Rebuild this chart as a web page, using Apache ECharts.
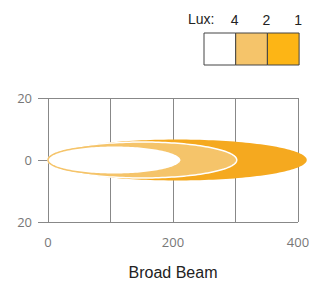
<!DOCTYPE html>
<html>
<head>
<meta charset="utf-8">
<script src="https://cdn.jsdelivr.net/npm/echarts@6/dist/echarts.min.js"></script>
<style>
  html, body { margin: 0; padding: 0; background: #fff; }
  #chart { width: 313px; height: 282px; }
</style>
</head>
<body>
<div id="chart"></div>
<script>
// lux levels, from brightest (innermost) to dimmest (outermost)
const luxLevels = ['4', '2', '1'];
const beamLength = [213, 302, 414];     // metres along the beam
const beamHalfWidth = [4.6, 5.8, 6.6];  // metres either side of centre
const fillColors = ['#ffffff', '#f5c46a', '#f5a91f'];
const legendColors = ['#ffffff', '#f5c46a', '#fdb515'];
const strokeColors = ['#f5c46a', '#ffffff', 'none'];

const chart = echarts.init(document.getElementById('chart'), null, { renderer: 'svg' });

// outermost first so the brighter zones sit on top
const beamData = luxLevels.map((lux, i) => [beamLength[i], beamHalfWidth[i], i]).reverse();

function renderBeam(params, api) {
    const len = api.value(0);
    const hw = api.value(1);
    const idx = api.value(2);
    const pts = [];
    for (let k = 0; k <= 180; k++) {
        const t = (k / 180) * Math.PI * 2;
        pts.push(api.coord([len / 2 - (len / 2) * Math.cos(t), hw * Math.sin(t)]));
    }
    return {
        type: 'polygon',
        shape: { points: pts },
        style: {
            fill: fillColors[idx],
            stroke: strokeColors[idx],
            lineWidth: strokeColors[idx] === 'none' ? 0 : 1.5
        }
    };
}

// legend boxes drawn from the lux levels
const boxLeft = 204, boxTop = 33, boxW = 31.7, boxH = 32;
const legendGraphics = [{
    type: 'text', left: 188, top: 12,
    style: { text: 'Lux:', font: '14px Arial, "Liberation Sans", sans-serif', fill: '#222' }
}];
luxLevels.forEach((lux, i) => {
    legendGraphics.push({
        type: 'rect',
        shape: { x: boxLeft + i * boxW, y: boxTop, width: boxW, height: boxH },
        style: { fill: legendColors[i], stroke: '#444', lineWidth: 1 }
    });
    legendGraphics.push({
        type: 'text',
        x: boxLeft + (i + 1) * boxW - 1, y: 20,
        style: {
            text: lux, font: '14px Arial, "Liberation Sans", sans-serif', fill: '#222',
            align: 'center', verticalAlign: 'middle'
        }
    });
});

chart.setOption({
    animation: false,
    title: {
        text: 'Broad Beam',
        left: 173, top: 263, textAlign: 'center', padding: 0,
        textStyle: {
            fontSize: 16, lineHeight: 18, fontWeight: 'normal', color: '#222',
            fontFamily: 'Arial, "Liberation Sans", sans-serif'
        }
    },
    grid: { left: 48, right: 15, top: 98, bottom: 60 },
    xAxis: {
        type: 'value', min: 0, max: 400, interval: 100,
        axisLine: { show: false },
        axisTick: { show: true, length: 10, lineStyle: { color: '#888' } },
        splitLine: { show: true, lineStyle: { color: '#888', width: 1 } },
        axisLabel: {
            color: '#777', fontSize: 13, fontFamily: '"Open Sans", sans-serif', margin: 13,
            formatter: v => (v % 200 === 0 ? String(v) : '')
        }
    },
    yAxis: {
        type: 'value', min: -20, max: 20, interval: 20,
        axisLine: { show: false },
        axisTick: { show: true, length: 10, lineStyle: { color: '#888' } },
        splitLine: { show: true, lineStyle: { color: '#888', width: 1 } },
        axisLabel: {
            color: '#777', fontSize: 13, fontFamily: '"Open Sans", sans-serif', margin: 16,
            formatter: v => String(Math.abs(v))
        }
    },
    graphic: legendGraphics,
    series: [{
        type: 'custom',
        renderItem: renderBeam,
        clip: false,
        data: beamData
    }]
});
</script>
</body>
</html>
